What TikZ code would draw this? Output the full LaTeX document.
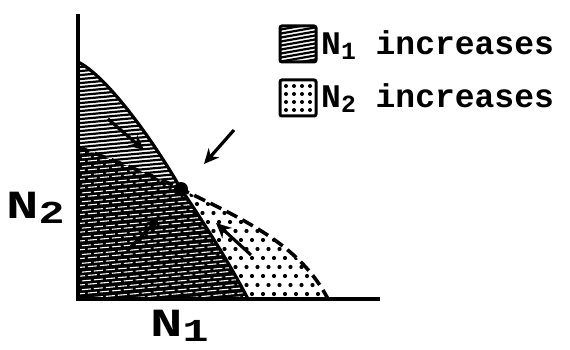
\documentclass[tikz,border=0pt]{standalone}
\usepackage{fontspec}
\usepackage{graphicx}
\usetikzlibrary{arrows.meta}
\newfontfamily\letterfont{Liberation Mono}
\newcommand\lowsub[2][0.75]{\raisebox{-0.25ex}{\scalebox{#1}{#2}}}
\newcommand\widen[1]{\scalebox{1.35}[1]{#1}}

\begin{document}
\begin{tikzpicture}[x=1pt, y=-1pt,
    axis/.style={line width=3.6pt},
    iso/.style={line width=3.2pt},
    isodash/.style={line width=3.6pt, dash pattern=on 12pt off 6pt},
    hatch/.style={line width=2.2pt},
    gap/.style={white, line width=1.1pt, dash pattern=on 9pt off 3pt},
    flow/.style={line width=3.2pt, -{Stealth[length=15pt, width=14pt]}},
    keybox/.style={line width=3pt, rounded corners=2pt},
    eqdot/.style={circle, fill, inner sep=0pt, minimum size=14pt},
    lbl/.style={font=\letterfont\bfseries\fontsize{33}{36}\selectfont, anchor=base west, inner sep=0pt},
    axlbl/.style={font=\letterfont\bfseries\fontsize{40}{44}\selectfont, anchor=base west, inner sep=0pt}
  ]
    \useasboundingbox (0,0) rectangle (570,350);
    % isocline end points
    \coordinate (top1) at (78,62);
    \coordinate (top2) at (78,147);
    \coordinate (eq) at (181,189);
    \coordinate (foot1) at (248,299);
    \coordinate (foot2) at (328,299);
    \coordinate (orig) at (78,299);
    \coordinate (ytop) at (78,14);
    \coordinate (xend) at (380,299);
    % N1 only
    \begin{scope}
      \clip (top1) .. controls (105,75) and (150,135) .. (eq)
        .. controls (150,174) and (112,160) .. (top2) -- cycle;
      \foreach \k in {0,...,40}
        \draw[hatch] (70,{40+4*\k}) -- (200,{28+4*\k});
    \end{scope}
    % N1 and N2
    \begin{scope}
      \clip (top2) .. controls (112,160) and (150,174) .. (eq)
        .. controls (198,214) and (228,260) .. (foot1) -- (orig) -- cycle;
      \fill (70,130) rectangle (260,310);
      \foreach \k [evaluate=\k as \sx using {64+6*mod(\k,2)}] in {0,...,48}
        \draw[gap] (\sx,{128+4.4*\k}) -- ++(200,-18);
    \end{scope}
    % N2 only
    \begin{scope}
      \clip (eq) .. controls (245,220) and (300,245) .. (foot2) -- (foot1)
        .. controls (228,260) and (198,214) .. (eq);
      \foreach \r in {0,...,13}
        \foreach \c in {0,...,16}
          \fill ({175+11*\c+5.5*mod(\r,2)},{186+9*\r}) circle (2.1pt);
    \end{scope}
    % isoclines
    \draw[iso] (top1) .. controls (105,75) and (150,135) .. (eq)
      .. controls (198,214) and (228,260) .. (foot1);
    \draw[isodash] (top2) .. controls (112,160) and (150,174) .. (eq)
      .. controls (245,220) and (300,245) .. (foot2);
    \draw[axis] (ytop) -- (orig) -- (xend);
    \node[eqdot] (eqpt) at (eq) {};
    % arrows
    \coordinate (t1) at (108,119);
    \coordinate (h1) at (144,150);
    \coordinate (t2) at (234,130);
    \coordinate (h2) at (204,164);
    \coordinate (t3) at (127,251);
    \coordinate (h3) at (159,218);
    \coordinate (t4) at (251,255);
    \coordinate (h4) at (216,223);
    \draw[flow] (t1) -- (h1);
    \draw[flow] (t2) -- (h2);
    \draw[flow] (t3) -- (h3);
    \draw[flow] (t4) -- (h4);
    % key
    \begin{scope}
      \clip (280,26) rectangle (316,62);
      \foreach \k in {0,...,13}
        \draw[hatch] (278,{26+4*\k}) -- (318,{19+4*\k});
    \end{scope}
    \draw[keybox] (280,26) rectangle (316,62);
    \foreach \r in {0,...,3}
      \foreach \c in {0,...,3}
        \fill ({286+8*\c},{86+8*\r}) circle (2pt);
    \draw[keybox] (280,80) rectangle (316,116);
    \node[lbl] (lab1) at (321,55) {N\lowsub{1} increases};
    \node[lbl] (lab2) at (321,108) {N\lowsub{2} increases};
    % axis labels
    \node[axlbl] (ylab) at (6,218) {\widen{N\lowsub[0.8]{2}}};
    \node[axlbl] (xlab) at (150,336) {\widen{N\lowsub[0.8]{1}}};
  \end{tikzpicture}
\end{document}
